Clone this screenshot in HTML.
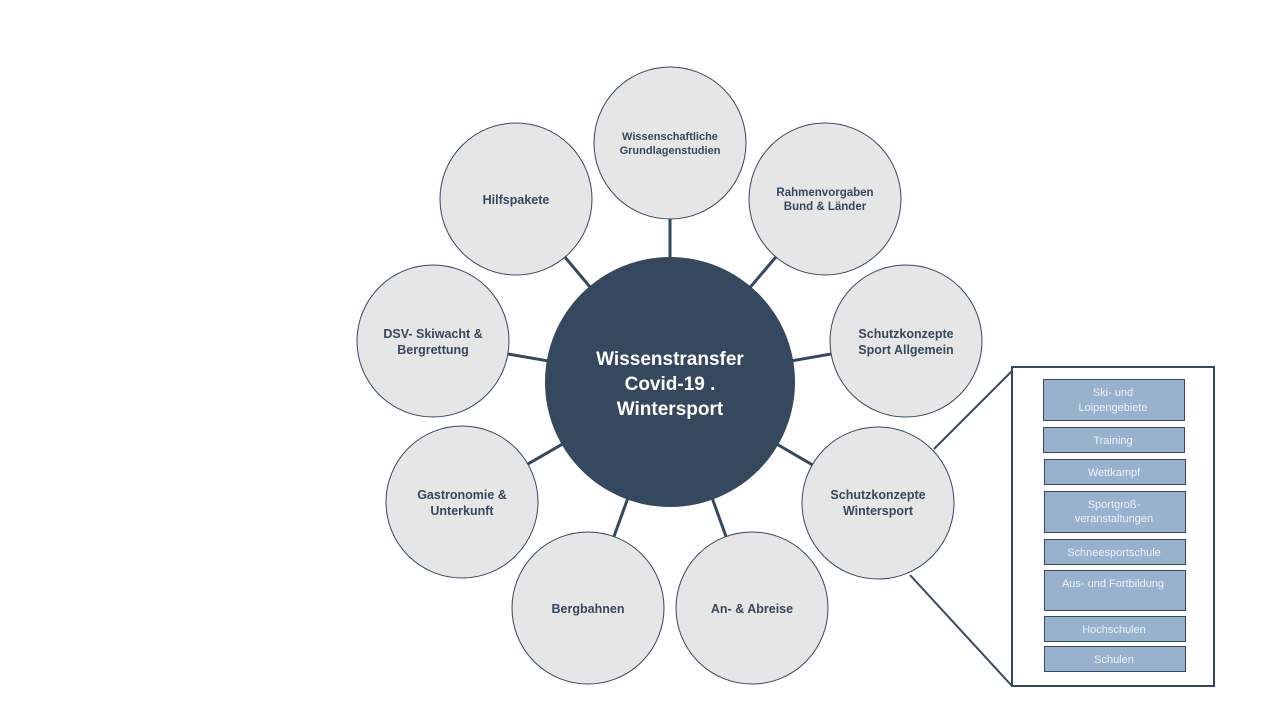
<!DOCTYPE html>
<html><head><meta charset="utf-8"><style>
html,body{margin:0;padding:0;background:#fff;width:1280px;height:720px;overflow:hidden}
svg{display:block}
text{font-family:"Liberation Sans",sans-serif}
.b text{font-weight:bold}
.n text{font-weight:normal}
</style></head><body>
<svg width="1280" height="720" viewBox="0 0 1280 720" xmlns="http://www.w3.org/2000/svg">
<g stroke="#36485e" stroke-width="3">
<line x1="670" y1="382" x2="670" y2="143"/>
<line x1="670" y1="382" x2="825" y2="199"/>
<line x1="670" y1="382" x2="906" y2="341"/>
<line x1="670" y1="382" x2="878" y2="503"/>
<line x1="670" y1="382" x2="752" y2="608"/>
<line x1="670" y1="382" x2="588" y2="608"/>
<line x1="670" y1="382" x2="462" y2="502"/>
<line x1="670" y1="382" x2="433" y2="341"/>
<line x1="670" y1="382" x2="516" y2="199"/>
</g>
<g stroke="#36485e" stroke-width="2">
<line x1="934" y1="449" x2="1012" y2="371"/>
<line x1="910" y1="575" x2="1012" y2="686"/>
</g>
<g fill="#e6e6e6" stroke="#36485e" stroke-width="1">
<circle cx="670" cy="143" r="76"/>
<circle cx="825" cy="199" r="76"/>
<circle cx="906" cy="341" r="76"/>
<circle cx="878" cy="503" r="76"/>
<circle cx="752" cy="608" r="76"/>
<circle cx="588" cy="608" r="76"/>
<circle cx="462" cy="502" r="76"/>
<circle cx="433" cy="341" r="76"/>
<circle cx="516" cy="199" r="76"/>
</g>
<circle cx="670" cy="382" r="125" fill="#36485e"/>
<g class="b" fill="#36485e" text-anchor="middle" font-size="12.5">
<text x="670" y="140" font-size="11">Wissenschaftliche</text>
<text x="670" y="154" font-size="11">Grundlagenstudien</text>
<text x="825" y="196" font-size="11.5">Rahmenvorgaben</text>
<text x="825" y="210" font-size="11.5">Bund &amp; Länder</text>
<text x="906" y="338">Schutzkonzepte</text>
<text x="906" y="354">Sport Allgemein</text>
<text x="878" y="499">Schutzkonzepte</text>
<text x="878" y="515">Wintersport</text>
<text x="752" y="613">An- &amp; Abreise</text>
<text x="588" y="613">Bergbahnen</text>
<text x="462" y="499">Gastronomie &amp;</text>
<text x="462" y="515">Unterkunft</text>
<text x="433" y="338">DSV- Skiwacht &amp;</text>
<text x="433" y="354">Bergrettung</text>
<text x="516" y="204">Hilfspakete</text>
</g>
<g class="b" fill="#fff" text-anchor="middle" font-size="19">
<text x="670" y="365">Wissenstransfer</text>
<text x="670" y="390">Covid-19 .</text>
<text x="670" y="415">Wintersport</text>
</g>
<rect x="1012" y="367" width="202" height="319" fill="#fff" stroke="#36485e" stroke-width="2"/>
<g fill="#98b1cc" stroke="#36485e" stroke-width="1">
<rect x="1043.5" y="379.5" width="141" height="41"/>
<rect x="1043.5" y="427.5" width="141" height="25"/>
<rect x="1044.5" y="459.5" width="141" height="25"/>
<rect x="1044.5" y="491.5" width="141" height="41"/>
<rect x="1044.5" y="539.5" width="141" height="25"/>
<rect x="1044.5" y="570.5" width="141" height="40"/>
<rect x="1044.5" y="616.5" width="141" height="25"/>
<rect x="1044.5" y="646.5" width="141" height="25"/>
</g>
<g class="n" fill="#eef2f7" text-anchor="middle" font-size="11">
<text x="1113" y="396">Ski- und</text>
<text x="1113" y="411">Loipengebiete</text>
<text x="1113" y="444">Training</text>
<text x="1114" y="476">Wettkampf</text>
<text x="1114" y="508">Sportgroß-</text>
<text x="1114" y="522">veranstaltungen</text>
<text x="1114" y="556">Schneesportschule</text>
<text x="1113" y="587">Aus- und Fortbildung</text>
<text x="1114" y="633">Hochschulen</text>
<text x="1114" y="663">Schulen</text>
</g>
</svg>
</body></html>
